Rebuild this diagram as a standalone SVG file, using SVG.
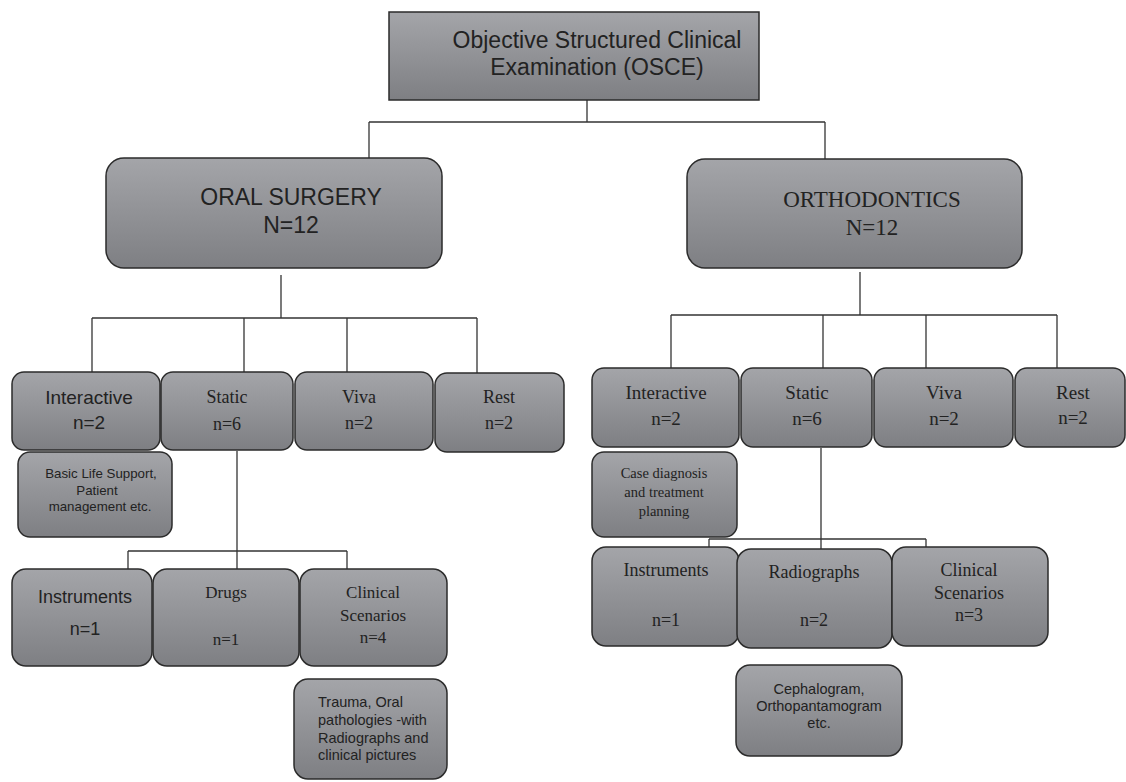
<svg xmlns="http://www.w3.org/2000/svg" width="1126" height="782" viewBox="0 0 1126 782">
<defs>
<linearGradient id="g" x1="0" y1="0" x2="0" y2="1">
<stop offset="0" stop-color="#a4a5a9"/>
<stop offset="1" stop-color="#7e7f83"/>
</linearGradient>
<style>
.b{fill:url(#g);stroke:#2b2b2b;stroke-width:1.5}
.s{font-family:"Liberation Sans",Arial,sans-serif;fill:#222}
.r{font-family:"Liberation Serif","Times New Roman",serif;fill:#222}
.c{text-anchor:middle}
.con line{stroke:#333;stroke-width:1.3}
</style>
</defs>
<rect width="1126" height="782" fill="#fff"/>
<g class="con">
<line x1="587" y1="100" x2="587" y2="122"/>
<line x1="369" y1="122" x2="825" y2="122"/>
<line x1="369" y1="122" x2="369" y2="158"/>
<line x1="825" y1="122" x2="825" y2="159"/>
<line x1="281" y1="275" x2="281" y2="318"/>
<line x1="92" y1="318" x2="477" y2="318"/>
<line x1="92" y1="318" x2="92" y2="372"/>
<line x1="244" y1="318" x2="244" y2="372"/>
<line x1="347" y1="318" x2="347" y2="372"/>
<line x1="477" y1="318" x2="477" y2="373"/>
<line x1="860" y1="272" x2="860" y2="315"/>
<line x1="671" y1="315" x2="1057" y2="315"/>
<line x1="671" y1="315" x2="671" y2="368"/>
<line x1="823" y1="315" x2="823" y2="368"/>
<line x1="926" y1="315" x2="926" y2="368"/>
<line x1="1057" y1="315" x2="1057" y2="368"/>
<line x1="237" y1="451" x2="237" y2="569"/>
<line x1="128" y1="551" x2="347" y2="551"/>
<line x1="128" y1="551" x2="128" y2="569"/>
<line x1="347" y1="551" x2="347" y2="569"/>
<line x1="821" y1="448" x2="821" y2="549"/>
<line x1="709" y1="539" x2="926" y2="539"/>
<line x1="709" y1="539" x2="709" y2="547"/>
<line x1="926" y1="539" x2="926" y2="547"/>
</g>
<g id="osce">
<rect class="b" x="389" y="12" width="370" height="88"/>
<text class="s c" x="597" y="48" font-size="23">Objective Structured Clinical</text>
<text class="s c" x="597" y="75" font-size="23">Examination (OSCE)</text>
</g>
<g id="oral">
<rect class="b" x="106" y="158" width="336" height="110" rx="18"/>
<text class="s c" x="291" y="205" font-size="23">ORAL SURGERY</text>
<text class="s c" x="291" y="233" font-size="23">N=12</text>
</g>
<g id="ortho">
<rect class="b" x="687" y="159" width="335" height="109" rx="18"/>
<text class="r c" x="872" y="207" font-size="23">ORTHODONTICS</text>
<text class="r c" x="872" y="235" font-size="23">N=12</text>
</g>
<g id="os-interactive">
<rect class="b" x="12" y="372" width="148" height="78" rx="12"/>
<text class="s c" x="89" y="404" font-size="19">Interactive</text>
<text class="s c" x="89" y="429" font-size="19">n=2</text>
</g>
<g id="os-static">
<rect class="b" x="161" y="372" width="132" height="78" rx="12"/>
<text class="r c" x="227" y="403" font-size="18">Static</text>
<text class="r c" x="227" y="430" font-size="18">n=6</text>
</g>
<g id="os-viva">
<rect class="b" x="295" y="372" width="138" height="78" rx="12"/>
<text class="r c" x="359" y="403" font-size="18">Viva</text>
<text class="r c" x="359" y="429" font-size="18">n=2</text>
</g>
<g id="os-rest">
<rect class="b" x="435" y="373" width="129" height="79" rx="12"/>
<text class="r c" x="499" y="403" font-size="18">Rest</text>
<text class="r c" x="499" y="429" font-size="18">n=2</text>
</g>
<g id="os-bls">
<rect class="b" x="18" y="452" width="154" height="85" rx="12"/>
<text class="s c" x="101" y="478" font-size="13.3">Basic Life Support,</text>
<text class="s c" x="97" y="495" font-size="13.3">Patient</text>
<text class="s c" x="100" y="511" font-size="13.3">management etc.</text>
</g>
<g id="os-instruments">
<rect class="b" x="12" y="569" width="140" height="97" rx="14"/>
<text class="s c" x="85" y="603" font-size="18">Instruments</text>
<text class="s c" x="85" y="635" font-size="18">n=1</text>
</g>
<g id="os-drugs">
<rect class="b" x="153" y="569" width="146" height="97" rx="14"/>
<text class="r c" x="226" y="598" font-size="17">Drugs</text>
<text class="r c" x="226" y="645" font-size="17">n=1</text>
</g>
<g id="os-clinical">
<rect class="b" x="300" y="569" width="147" height="97" rx="14"/>
<text class="r c" x="373" y="598" font-size="17">Clinical</text>
<text class="r c" x="373" y="621" font-size="17">Scenarios</text>
<text class="r c" x="373" y="643" font-size="17">n=4</text>
</g>
<g id="os-trauma">
<rect class="b" x="294" y="679" width="153" height="100" rx="14"/>
<text class="s" x="318" y="707" font-size="14.5">Trauma, Oral</text>
<text class="s" x="318" y="725" font-size="14.5">pathologies -with</text>
<text class="s" x="318" y="743" font-size="14.5">Radiographs and</text>
<text class="s" x="318" y="760" font-size="14.5">clinical pictures</text>
</g>
<g id="or-interactive">
<rect class="b" x="592" y="368" width="147" height="79" rx="12"/>
<text class="r c" x="666" y="399" font-size="19">Interactive</text>
<text class="r c" x="666" y="425" font-size="19">n=2</text>
</g>
<g id="or-static">
<rect class="b" x="741" y="368" width="131" height="79" rx="12"/>
<text class="r c" x="807" y="399" font-size="19">Static</text>
<text class="r c" x="807" y="425" font-size="19">n=6</text>
</g>
<g id="or-viva">
<rect class="b" x="874" y="368" width="139" height="79" rx="12"/>
<text class="r c" x="944" y="399" font-size="19">Viva</text>
<text class="r c" x="944" y="425" font-size="19">n=2</text>
</g>
<g id="or-rest">
<rect class="b" x="1015" y="368" width="110" height="79" rx="12"/>
<text class="r c" x="1073" y="399" font-size="19">Rest</text>
<text class="r c" x="1073" y="424" font-size="19">n=2</text>
</g>
<g id="or-case">
<rect class="b" x="592" y="452" width="145" height="85" rx="12"/>
<text class="r c" x="664" y="478" font-size="14.5">Case diagnosis</text>
<text class="r c" x="664" y="497" font-size="14.5">and treatment</text>
<text class="r c" x="664" y="516" font-size="14.5">planning</text>
</g>
<g id="or-instruments">
<rect class="b" x="592" y="547" width="147" height="99" rx="14"/>
<text class="r c" x="666" y="576" font-size="18">Instruments</text>
<text class="r c" x="666" y="626" font-size="18">n=1</text>
</g>
<g id="or-radiographs">
<rect class="b" x="737" y="549" width="155" height="99" rx="14"/>
<text class="r c" x="814" y="578" font-size="18">Radiographs</text>
<text class="r c" x="814" y="626" font-size="18">n=2</text>
</g>
<g id="or-clinical">
<rect class="b" x="892" y="547" width="156" height="99" rx="14"/>
<text class="r c" x="969" y="576" font-size="18">Clinical</text>
<text class="r c" x="969" y="599" font-size="18">Scenarios</text>
<text class="r c" x="969" y="621" font-size="18">n=3</text>
</g>
<g id="or-ceph">
<rect class="b" x="736" y="665" width="166" height="91" rx="14"/>
<text class="s c" x="819" y="694" font-size="14.5">Cephalogram,</text>
<text class="s c" x="819" y="711" font-size="14.5">Orthopantamogram</text>
<text class="s c" x="819" y="728" font-size="14.5">etc.</text>
</g>
</svg>
